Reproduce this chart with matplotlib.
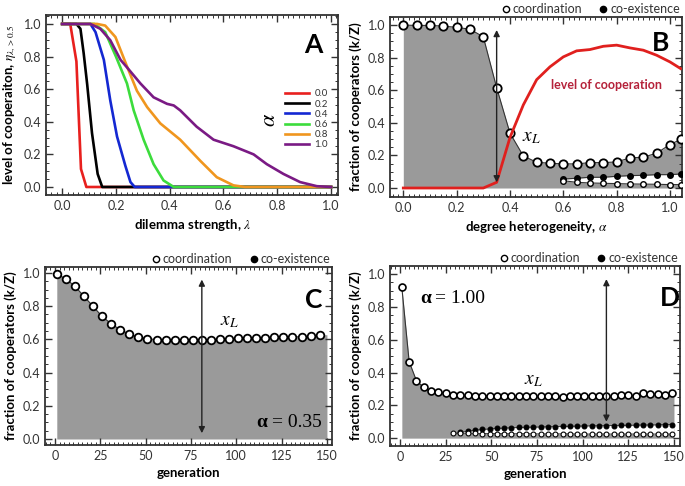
import numpy as np
import matplotlib.pyplot as plt
from matplotlib.ticker import MultipleLocator
from matplotlib.lines import Line2D

plt.rcParams['font.family'] = ['Lato', 'DejaVu Sans']
plt.rcParams['mathtext.fontset'] = 'stix'

# ---- panel A: level of cooperation vs dilemma strength ----
alpha_labels = ["0.0", "0.2", "0.4", "0.6", "0.8", "1.0"]
alpha_colors = ["#e8201e", "#000000", "#1428d2", "#3cdc3c", "#f0961e", "#7a1a84"]
lam_x = [
    [0.0, 0.03, 0.053, 0.07, 0.09, 1.0],
    [0.0, 0.053, 0.068, 0.08, 0.093, 0.111, 0.132, 0.149, 1.0],
    [0.0, 0.105, 0.124, 0.155, 0.179, 0.204, 0.235, 0.254, 0.27, 1.0],
    [0.0, 0.12, 0.16, 0.2, 0.241, 0.266, 0.303, 0.34, 0.377, 0.415, 1.0],
    [0.0, 0.13, 0.16, 0.198, 0.241, 0.278, 0.316, 0.365, 0.439, 0.514, 0.575, 0.637, 0.68, 1.0],
    [0.0, 0.105, 0.142, 0.179, 0.217, 0.248, 0.291, 0.34, 0.39, 0.415, 0.439, 0.5, 0.563,
     0.637, 0.712, 0.761, 0.823, 0.885, 0.947, 1.0],
]
lam_y = [
    [1.0, 1.0, 0.77, 0.11, 0.0, 0.0],
    [1.0, 1.0, 0.97, 0.82, 0.63, 0.33, 0.08, 0.0, 0.0],
    [1.0, 1.0, 0.95, 0.78, 0.53, 0.31, 0.13, 0.03, 0.0, 0.0],
    [1.0, 1.0, 0.95, 0.8, 0.635, 0.47, 0.29, 0.14, 0.04, 0.0, 0.0],
    [1.0, 1.0, 0.99, 0.92, 0.74, 0.59, 0.49, 0.39, 0.29, 0.16, 0.06, 0.01, 0.0, 0.0],
    [1.0, 1.0, 0.97, 0.9, 0.78, 0.72, 0.635, 0.55, 0.51, 0.5, 0.47, 0.37, 0.29,
     0.25, 0.2, 0.14, 0.08, 0.03, 0.005, 0.0],
]

# ---- panel B: fixed points vs degree heterogeneity ----
b_alpha = [0.0, 0.05, 0.1, 0.15, 0.2, 0.25, 0.3, 0.35, 0.4, 0.45, 0.5, 0.55,
           0.6, 0.65, 0.7, 0.75, 0.8, 0.85, 0.9, 0.95, 1.0, 1.04]
b_coord = [1.0, 0.998, 0.998, 0.994, 0.986, 0.975, 0.928, 0.616, 0.337, 0.197, 0.158, 0.152,
           0.148, 0.148, 0.156, 0.156, 0.16, 0.185, 0.189, 0.214, 0.267, 0.298]
b_level = [0.0, 0.0, 0.0, 0.0, 0.0, 0.0, 0.0, 0.035, 0.31, 0.51, 0.665, 0.744,
           0.805, 0.842, 0.85, 0.87, 0.877, 0.86, 0.846, 0.815, 0.774, 0.733]
b_alpha_low = [0.6, 0.65, 0.7, 0.75, 0.8, 0.85, 0.9, 0.95, 1.0, 1.04]
b_coex = [0.055, 0.06, 0.066, 0.066, 0.072, 0.076, 0.078, 0.082, 0.082, 0.086]
b_coord_low = [0.045, 0.035, 0.031, 0.029, 0.027, 0.025, 0.024, 0.023, 0.021, 0.021]

# ---- panel C: alpha = 0.35 over generations ----
c_gen = list(range(1, 150, 5))
c_coord = [0.994, 0.964, 0.92, 0.859, 0.799, 0.738, 0.694, 0.658, 0.632, 0.614,
           0.604, 0.598, 0.598, 0.597, 0.596, 0.597, 0.597, 0.598, 0.602, 0.604,
           0.606, 0.606, 0.608, 0.61, 0.614, 0.614, 0.614, 0.616, 0.618, 0.628]

# ---- panel D: alpha = 1.00 over generations ----
d_gen = list(range(1, 150, 4))
d_coord = [0.919, 0.467, 0.35, 0.309, 0.289, 0.28, 0.274, 0.266, 0.262, 0.262,
           0.258, 0.26, 0.258, 0.256, 0.258, 0.256, 0.254, 0.256, 0.254, 0.256,
           0.256, 0.26, 0.25, 0.256, 0.258, 0.256, 0.26, 0.254, 0.254, 0.256,
           0.262, 0.264, 0.258, 0.274, 0.27, 0.268, 0.262, 0.274]
d_gen_low = list(range(29, 150, 4))
d_coord_low = [0.03, 0.03, 0.029, 0.029, 0.028, 0.028, 0.028, 0.027, 0.027, 0.027,
               0.027, 0.026, 0.026, 0.026, 0.026, 0.026, 0.026, 0.025, 0.025, 0.025,
               0.025, 0.025, 0.025, 0.025, 0.025, 0.025, 0.025, 0.025, 0.025, 0.025, 0.025]
d_gen_coex = list(range(33, 150, 4))
d_coex = [0.035, 0.042, 0.048, 0.053, 0.056, 0.059, 0.061, 0.063, 0.065, 0.066,
          0.067, 0.068, 0.069, 0.07, 0.071, 0.072, 0.073, 0.074, 0.075, 0.075,
          0.076, 0.077, 0.078, 0.078, 0.079, 0.08, 0.08, 0.081, 0.082, 0.083]

GRAY = "#9a9a9a"
DARK = "#333333"


def style(ax, xmaj, xmin):
    ax.xaxis.set_major_locator(MultipleLocator(xmaj))
    ax.xaxis.set_minor_locator(MultipleLocator(xmin))
    ax.yaxis.set_major_locator(MultipleLocator(0.2))
    ax.yaxis.set_minor_locator(MultipleLocator(0.05))
    ax.tick_params(which="both", direction="in", top=True, right=True,
                   color=DARK, labelcolor=DARK, labelsize=9)
    ax.tick_params(which="major", length=5, width=1)
    ax.tick_params(which="minor", length=2.5, width=0.7)
    ax.yaxis.set_major_formatter(plt.FuncFormatter(lambda v, p: f"{v:.1f}"))
    for s in ax.spines.values():
        s.set_linewidth(1.3)
        s.set_color(DARK)


def top_legend(ax):
    h = [Line2D([], [], ls="none", marker="o", mfc="white", mec="black", ms=4.5, mew=1),
         Line2D([], [], ls="none", marker="o", mfc="black", mec="black", ms=4.5, mew=1)]
    ax.legend(h, ["coordination", "co-existence"], loc="lower right",
              bbox_to_anchor=(1.0, 1.0), ncol=2, frameon=False, fontsize=9,
              handletextpad=0.15, columnspacing=1.3, handlelength=0.8,
              borderaxespad=0.05, borderpad=0.1, labelcolor=DARK)


def arrow(ax, x, y0, y1):
    ax.annotate("", xy=(x, y1), xytext=(x, y0),
                arrowprops=dict(arrowstyle="<|-|>", color="#222222", lw=1,
                                mutation_scale=9, shrinkA=0, shrinkB=0), zorder=6)


fig = plt.figure(figsize=(6.85, 4.86), dpi=100)
axA = fig.add_axes([0.0672, 0.5988, 0.4263, 0.3704])
axB = fig.add_axes([0.5693, 0.5947, 0.4263, 0.3704])
axC = fig.add_axes([0.0657, 0.0844, 0.4190, 0.3663])
axD = fig.add_axes([0.5693, 0.0823, 0.4234, 0.3704])

# A
for xs, ys, c, lab in zip(lam_x, lam_y, alpha_colors, alpha_labels):
    axA.plot(xs, ys, color=c, lw=1.9, label=lab)
axA.set_xlim(-0.06, 1.026)
axA.set_ylim(-0.049, 1.055)
style(axA, 0.2, 0.02)
axA.set_xlabel(r"dilemma strength, $\lambda$", fontsize=9.5, fontweight="bold")
axA.set_ylabel(r"level of cooperaiton, $\eta_{\lambda,>0.5}$", fontsize=9.5, fontweight="bold")
axA.legend(loc="center left", bbox_to_anchor=(0.79, 0.42), frameon=False, fontsize=7,
           handlelength=2.4, labelspacing=0.12, handletextpad=0.6, labelcolor=DARK)
axA.text(0.765, 0.417, r"$\alpha$", transform=axA.transAxes, rotation=90,
         fontsize=16, ha="center", va="center")
axA.text(0.914, 0.833, "A", transform=axA.transAxes, fontsize=19, fontweight="bold",
         ha="center", va="center")

# B
axB.fill_between(b_alpha, 0, b_coord, color=GRAY, lw=0, zorder=1)
axB.fill_between(b_alpha_low, b_coord_low, b_coex, color="white", lw=0, zorder=1.5)
axB.plot(b_alpha, b_coord, color=DARK, lw=0.8, marker="o", ms=6, mfc="white",
         mec="black", mew=1.3, zorder=3)
axB.plot(b_alpha_low, b_coex, color=DARK, lw=0.8, marker="o", ms=4, mfc="black",
         mec="black", mew=1, zorder=3)
axB.plot(b_alpha_low, b_coord_low, color=DARK, lw=0.8, marker="o", ms=4, mfc="white",
         mec="black", mew=1, zorder=3)
axB.plot(b_alpha, b_level, color="#e0201e", lw=2, zorder=4)
arrow(axB, 0.35, 0.035, 0.97)
axB.text(0.48, 0.31, r"$x_L$", fontsize=14, ha="center", va="center")
axB.text(0.762, 0.63, "level of cooperation", color="#b5223a", fontsize=9,
         fontweight="bold", ha="center", va="center")
axB.set_xlim(-0.05, 1.045)
axB.set_ylim(-0.055, 1.05)
style(axB, 0.2, 0.02)
axB.set_xlabel(r"degree heterogeneity, $\alpha$", fontsize=9.5, fontweight="bold")
axB.set_ylabel("fraction of cooperators (k/Z)", fontsize=9.5, fontweight="bold")
axB.text(0.925, 0.856, "B", transform=axB.transAxes, fontsize=19, fontweight="bold",
         ha="center", va="center")
top_legend(axB)

# C
axC.fill_between(c_gen + [150], 0, c_coord + [c_coord[-1]], color=GRAY, lw=0, zorder=1)
axC.plot(c_gen, c_coord, color=DARK, lw=0.8, marker="o", ms=5.5, mfc="white",
         mec="black", mew=1.3, zorder=3)
arrow(axC, 81, 0.035, 0.96)
axC.text(96, 0.705, r"$x_L$", fontsize=14, ha="center", va="center")
t = axC.text(147, 0.1, "= 0.35", family="Liberation Serif", fontsize=14,
             ha="right", va="center")
axC.annotate("α", xy=(0, 0.5), xycoords=t, xytext=(-3, 0), textcoords="offset points",
             family="Liberation Serif", fontweight="bold", fontsize=14,
             ha="right", va="center")
axC.set_xlim(-5.5, 152.8)
axC.set_ylim(-0.036, 1.036)
style(axC, 25, 2.5)
axC.set_xlabel("generation", fontsize=9.5, fontweight="bold")
axC.set_ylabel("fraction of cooperators (k/Z)", fontsize=9.5, fontweight="bold")
axC.text(0.937, 0.815, "C", transform=axC.transAxes, fontsize=19, fontweight="bold",
         ha="center", va="center")
top_legend(axC)

# D
axD.fill_between(d_gen + [150], 0, d_coord + [d_coord[-1]], color=GRAY, lw=0, zorder=1)
axD.fill_between(d_gen_coex + [150], d_coord_low[1:] + [d_coord_low[-1]],
                 d_coex + [d_coex[-1]], color="white", lw=0, zorder=1.5)
axD.plot(d_gen, d_coord, color=DARK, lw=0.8, marker="o", ms=5, mfc="white",
         mec="black", mew=1.2, zorder=3)
axD.plot(d_gen_coex, d_coex, color=DARK, lw=0.6, marker="o", ms=3.5, mfc="black",
         mec="black", mew=0.8, zorder=3)
axD.plot(d_gen_low, d_coord_low, color=DARK, lw=0.6, marker="o", ms=3.5, mfc="white",
         mec="black", mew=0.8, zorder=3)
arrow(axD, 113, 0.10, 0.97)
axD.text(72.8, 0.354, r"$x_L$", fontsize=14, ha="center", va="center")
t = axD.text(11, 0.854, "α", family="Liberation Serif", fontweight="bold",
             fontsize=14, ha="left", va="center")
axD.annotate("= 1.00", xy=(1, 0.5), xycoords=t, xytext=(3, 0), textcoords="offset points",
             family="Liberation Serif", fontsize=14, ha="left", va="center")
axD.set_xlim(-5.5, 153.3)
axD.set_ylim(-0.048, 1.05)
style(axD, 25, 2.5)
axD.set_xlabel("generation", fontsize=9.5, fontweight="bold")
axD.set_ylabel("fraction of cooperators (k/Z)", fontsize=9.5, fontweight="bold")
axD.text(0.965, 0.822, "D", transform=axD.transAxes, fontsize=19, fontweight="bold",
         ha="center", va="center")
top_legend(axD)

for ax in (axC, axD):
    ax.xaxis.set_major_formatter(plt.FuncFormatter(lambda v, p: f"{v:.0f}"))

fig.savefig("out.png", dpi=100)
